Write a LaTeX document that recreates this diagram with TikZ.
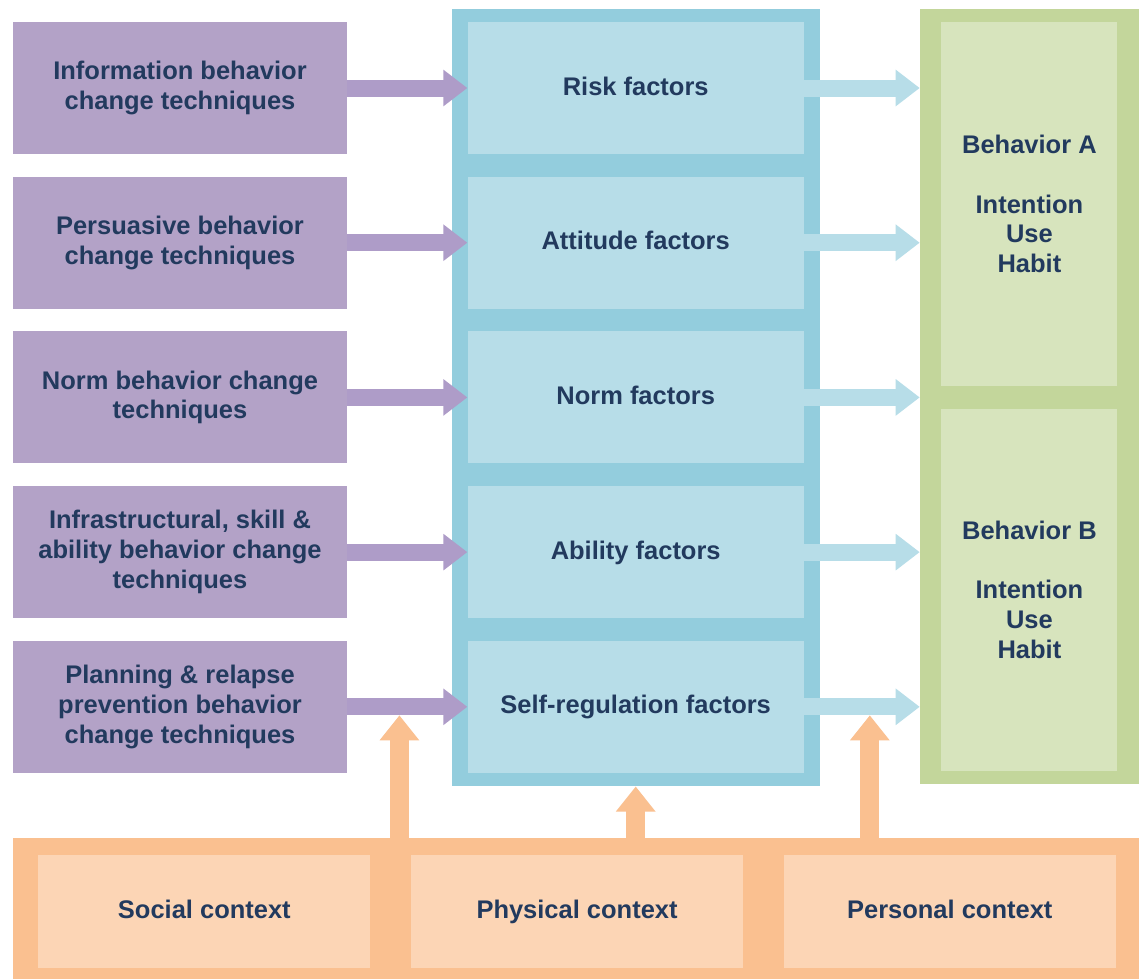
\documentclass[tikz,border=0pt]{standalone}
\usepackage{fontspec}
\setmainfont{Liberation Sans}
\usetikzlibrary{arrows.meta,positioning,fit,calc,backgrounds}
\definecolor{ink}{HTML}{223A5E}
\definecolor{tech}{HTML}{B3A2C7}
\definecolor{techarrow}{HTML}{AE9CC8}
\definecolor{factframe}{HTML}{93CDDD}
\definecolor{factfill}{HTML}{B7DDE8}
\definecolor{behframe}{HTML}{C3D69B}
\definecolor{behfill}{HTML}{D7E4BD}
\definecolor{ctxframe}{HTML}{FAC090}
\definecolor{ctxfill}{HTML}{FCD5B5}

\begin{document}
\begin{tikzpicture}[node distance=.44cm,
 every node/.style={font=\bfseries\fontsize{14.5}{17}\selectfont,text=ink,align=center,inner sep=0pt},
 techbox/.style={fill=tech,minimum width=6.68cm,minimum height=2.64cm},
 factbox/.style={fill=factfill,minimum width=6.72cm,minimum height=2.64cm,text height=11pt,text depth=3pt},
 behbox/.style={fill=behfill,minimum width=3.52cm},
 ctxbox/.style={fill=ctxfill,minimum width=6.64cm,minimum height=2.26cm,text height=11pt,text depth=3pt},
 flow/.style={line width=.34cm,-{Triangle[width=.7cm,length=.48cm]}},
 lift/.style={line width=.38cm,ctxframe,-{Triangle[width=.76cm,length=.5cm]}}]
\useasboundingbox (0,0) rectangle (22.78,-19.56);
\node[techbox] (t1) at (3.6,-1.76) {Information behavior\\change techniques};
\node[techbox,below=of t1] (t2) {Persuasive behavior\\change techniques};
\node[techbox,below=of t2] (t3) {Norm behavior change\\techniques};
\node[techbox,below=of t3] (t4) {Infrastructural, skill \&\\ability behavior change\\techniques};
\node[techbox,below=of t4] (t5) {Planning \& relapse\\prevention behavior\\change techniques};
\node[factbox,right=2.4cm of t1] (f1) {Risk factors};
\node[factbox,below=of f1] (f2) {Attitude factors};
\node[factbox,below=of f2] (f3) {Norm factors};
\node[factbox,below=of f3] (f4) {Ability factors};
\node[factbox,below=of f4] (f5) {Self-regulation factors};
\node[behbox,minimum height=7.28cm,anchor=north west] (bA) at ([xshift=2.74cm]f1.north east)
 {Behavior A\\[17pt]Intention\\Use\\Habit};
\node[behbox,minimum height=7.24cm,below=of bA] (bB) {Behavior B\\[17pt]Intention\\Use\\Habit};
\node[ctxbox,anchor=north west] (soc) at (.76,-17.1) {Social context};
\node[ctxbox,right=.8cm of soc] (phy) {Physical context};
\node[ctxbox,right=.8cm of phy] (per) {Personal context};
\begin{scope}[on background layer]
\fill[white] (0,0) rectangle (22.78,-19.56);
\node[fill=factframe,fit=(f1)(f5),inner xsep=.31cm,inner ysep=.26cm] (ff) {};
\node[fill=behframe,fit=(bA)(bB),inner xsep=.42cm,inner ysep=.26cm] (bf) {};
\node[fill=ctxframe,fit=(soc)(per),inner xsep=.5cm,inner ysep=.34cm] (cf) {};
\end{scope}
\foreach \i in {1,...,5} {
 \draw[flow,techarrow] (t\i) -- (f\i);
 \draw[flow,factfill] (f\i) -- (f\i -| bf.west);
}
\coordinate (u1) at ($(t5.east)!.5!(t5.east -| ff.west) + (0,-.17)$);
\coordinate (u2) at ($(f5.east -| ff.east)!.5!(f5.east -| bf.west) + (0,-.17)$);
\draw[lift] (cf.north -| u1) -- (u1);
\draw[lift] (cf.north -| ff.south) -- (ff.south);
\draw[lift] (cf.north -| u2) -- (u2);
\end{tikzpicture}
\end{document}
